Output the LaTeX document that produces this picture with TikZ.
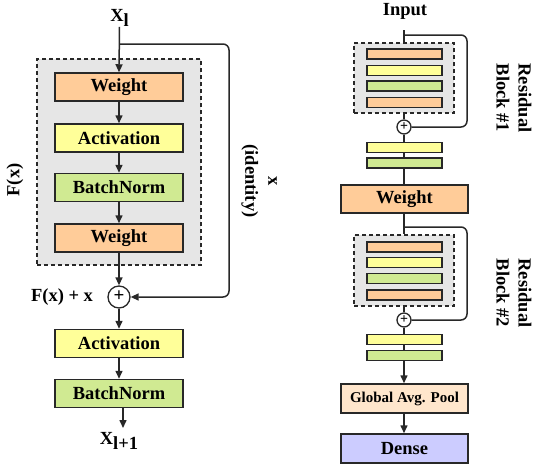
\documentclass[tikz,border=0pt]{standalone}
\usepackage{fontspec}
\setmainfont{Liberation Serif}
\usetikzlibrary{arrows.meta}
\definecolor{cOrange}{RGB}{255,204,153}
\definecolor{cYellow}{RGB}{255,255,153}
\definecolor{cGreen}{RGB}{208,234,146}
\definecolor{cPeach}{RGB}{255,230,204}
\definecolor{cLav}{RGB}{204,204,255}
\definecolor{cGray}{RGB}{230,230,230}
\definecolor{cLine}{RGB}{40,40,40}
\tikzset{
  lbl/.style={font=\fontsize{18.5}{22}\selectfont\bfseries, inner sep=0pt, text=black, align=center},
  blk/.style={draw=cLine, line width=1.5pt, minimum width=128pt, minimum height=28pt, inner sep=0pt, font=\fontsize{18.5}{22}\selectfont\bfseries},
  bar/.style={draw=cLine, line width=1.4pt, minimum width=75pt, minimum height=10pt, inner sep=0pt},
  grp/.style={draw=cLine, dash pattern=on 4pt off 3pt, line width=1.1pt, fill=cGray, inner sep=0pt},
  sumL/.style={circle, draw=cLine, line width=1.3pt, fill=white, minimum size=22pt, inner sep=0pt, font=\fontsize{19}{19}\selectfont\bfseries},
  sumS/.style={circle, draw=cLine, line width=1.3pt, fill=white, minimum size=14pt, inner sep=0pt, font=\fontsize{14}{14}\selectfont\bfseries},
  con/.style={draw=cLine, line width=1.5pt},
  arr/.style={con, -{Triangle[length=8pt,width=7pt]}},
}
\newcommand{\lowsub}[1]{\raisebox{-5pt}{#1}}
\begin{document}
\begin{tikzpicture}[x=1pt,y=-1pt]
\useasboundingbox (0,0) rectangle (538,467);
% ---------------- left diagram ----------------
\node[grp, minimum width=164pt, minimum height=206pt] (gL) at (119,162) {};
\node[lbl] (xl) at (119.5,18) {X\lowsub{l}};
\coordinate (splitL) at (119,44);
\coordinate (cornL1) at (229,44);
\coordinate (cornL2) at (229,297);
\node[blk, fill=cOrange] (w1) at (119,87) {Weight};
\node[blk, fill=cYellow] (a1) at (119,138) {Activation};
\node[blk, fill=cGreen] (b1) at (119,187.5) {BatchNorm};
\node[blk, fill=cOrange] (w2) at (119,238) {Weight};
\node[sumL] (s1) at (119,297) {\raisebox{1pt}{+}};
\node[blk, fill=cYellow] (a2) at (119,343.5) {Activation};
\node[blk, fill=cGreen] (b2) at (119,393.5) {BatchNorm};
\node[lbl] (xl1) at (119,441) {X\lowsub{l+1}};
\coordinate (xend) at (123,428);
\node[lbl, anchor=center] (fxx) at (62,297) {F(x) + x};
\node[lbl, rotate=90] (fx) at (15,180) {F(x)};
\node[lbl, rotate=-90, font=\fontsize{18.5}{23}\selectfont\bfseries] (idl) at (259,181) {x\\(identity)};
\draw[arr] (xl.south) -- (w1.north);
\draw[arr] (w1) -- (a1);
\draw[arr] (a1) -- (b1);
\draw[arr] (b1) -- (w2);
\draw[arr] (w2) -- (s1);
\draw[arr] (s1) -- (a2);
\draw[arr] (a2) -- (b2);
\draw[arr] (b2.south -| xend) -- (xend);
\draw[arr, rounded corners=6pt] (splitL) -- (cornL1) -- (cornL2) -- (s1.east);
% ---------------- right diagram ----------------
\node[lbl] (inp) at (405,11) {Input};
\coordinate (in0) at (404,30);
\coordinate (splitR1) at (404,35);
\coordinate (cR1a) at (467,35);
\coordinate (cR1b) at (467,127);
\node[grp, minimum width=100pt, minimum height=70pt] (g1) at (404,78) {};
\node[bar, fill=cOrange] (r1a) at (404.5,54) {};
\node[bar, fill=cYellow] (r1b) at (404.5,70.5) {};
\node[bar, fill=cGreen] (r1c) at (404.5,86) {};
\node[bar, fill=cOrange] (r1d) at (404.5,102.5) {};
\node[sumS] (s2) at (404,127) {\raisebox{0.5pt}{+}};
\node[bar, fill=cYellow] (y1) at (404.5,147.5) {};
\node[bar, fill=cGreen] (gr1) at (404.5,163) {};
\node[blk, fill=cOrange, minimum width=127pt] (wr) at (404.5,199) {Weight};
\coordinate (splitR2) at (404,227);
\coordinate (cR2a) at (467,227);
\coordinate (cR2b) at (467,320);
\node[grp, minimum width=100pt, minimum height=71pt] (g2) at (404,270.5) {};
\node[bar, fill=cOrange] (r2a) at (404.5,247) {};
\node[bar, fill=cYellow] (r2b) at (404.5,262.5) {};
\node[bar, fill=cGreen] (r2c) at (404.5,278.5) {};
\node[bar, fill=cOrange] (r2d) at (404.5,295) {};
\node[sumS] (s3) at (404,320) {\raisebox{0.5pt}{+}};
\node[bar, fill=cYellow] (y2) at (404.5,339.5) {};
\node[bar, fill=cGreen] (gr2) at (404.5,355.5) {};
\node[blk, fill=cPeach, minimum width=127pt, minimum height=29pt, font=\fontsize{15}{18}\selectfont\bfseries] (gap) at (404.5,398.5) {Global Avg. Pool};
\node[blk, fill=cLav, minimum width=127pt, minimum height=29pt] (den) at (404.5,448.5) {Dense};
\node[lbl, rotate=-90] (rb1) at (514,98) {Residual\\Block \#1};
\node[lbl, rotate=-90] (rb2) at (514,293) {Residual\\Block \#2};
\draw[con] (in0) -- (g1.north -| in0);
\draw[con] (g1.south -| s2) -- (s2.north);
\draw[con] (s2.south) -- (y1.north -| s2);
\draw[con] (y1.south -| s2) -- (gr1.north -| s2);
\draw[con] (gr1.south -| s2) -- (wr.north -| s2);
\draw[con] (wr.south -| s2) -- (g2.north -| s2);
\draw[con, rounded corners=6pt] (splitR1) -- (cR1a) -- (cR1b) -- (s2.east);
\draw[con, rounded corners=6pt] (splitR2) -- (cR2a) -- (cR2b) -- (s3.east);
\draw[con] (g2.south -| s3) -- (s3.north);
\draw[con] (s3.south) -- (y2.north -| s3);
\draw[con] (y2.south -| s3) -- (gr2.north -| s3);
\draw[arr] (gr2.south -| s3) -- (gap.north -| s3);
\draw[arr] (gap.south -| s3) -- (den.north -| s3);
\end{tikzpicture}
\end{document}
